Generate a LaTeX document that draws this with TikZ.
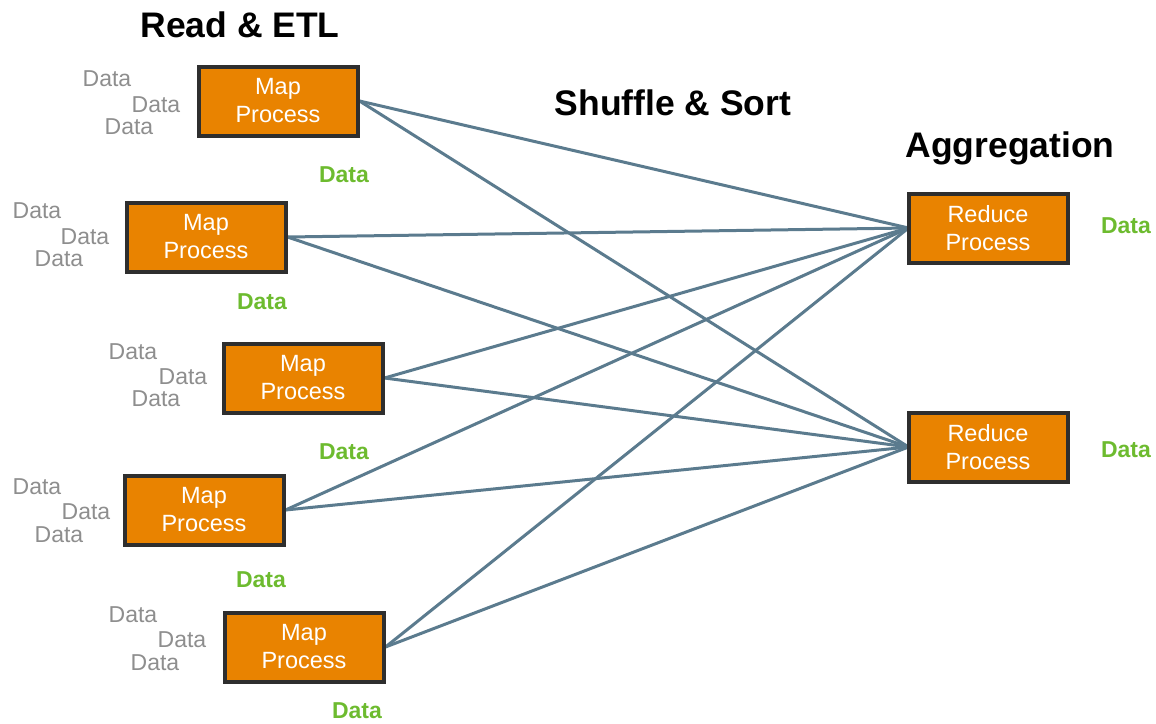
\documentclass[tikz,border=0pt]{standalone}
\usepackage{fontspec}
\setmainfont{Liberation Sans}
\usetikzlibrary{shadows,backgrounds}
\definecolor{boxfill}{HTML}{E98300}
\definecolor{boxline}{HTML}{2E2E2E}
\definecolor{linkcol}{HTML}{5B7B8E}
\definecolor{graytxt}{HTML}{8E8E8E}
\definecolor{greentxt}{HTML}{6DBB2F}
\tikzset{
  procbox/.style={draw=boxline, line width=4pt, fill=boxfill, minimum width=159pt, minimum height=69pt,
    inner sep=0pt, align=center, text=white, font=\fontsize{23.5}{28}\selectfont,
    drop shadow={shadow xshift=1.5pt, shadow yshift=-1.5pt, opacity=0.35}},
  link/.style={draw=linkcol, line width=3pt},
  graylab/.style={text=graytxt, font=\fontsize{23}{27}\selectfont, inner sep=0pt},
  greenlab/.style={text=greentxt, font=\bfseries\fontsize{23}{27}\selectfont, inner sep=0pt},
  titlelab/.style={font=\bfseries\fontsize{35.5}{42}\selectfont, inner sep=0pt}
}
\begin{document}
\begin{tikzpicture}[x=1pt,y=-1pt]
\useasboundingbox (0,0) rectangle (1156,723);
% boxes
\node[procbox] (m1) at (278,101) {Map\\Process};
\node[procbox] (m2) at (206,237) {Map\\Process};
\node[procbox] (m3) at (303,378) {Map\\Process};
\node[procbox] (m4) at (204,510) {Map\\Process};
\node[procbox] (m5) at (304,647) {Map\\Process};
\node[procbox] (r1) at (988,228) {Reduce\\Process};
\node[procbox] (r2) at (988,447) {Reduce\\Process};
% links, behind the boxes
\coordinate (a1) at ([xshift=2pt]r1.west);
\coordinate (a2) at ([xshift=2pt]r2.west);
\begin{pgfonlayer}{background}
\foreach \m in {m1,m2,m3,m4,m5}{
  \draw[link] (\m.east) -- (a1);
  \draw[link] (\m.east) -- (a2);
}
\end{pgfonlayer}
% gray data labels
\node[graylab] (g11) at (107,79) {Data};
\node[graylab] (g12) at (156,105) {Data};
\node[graylab] (g13) at (129,127) {Data};
\node[graylab] (g21) at (37,211) {Data};
\node[graylab] (g22) at (85,237) {Data};
\node[graylab] (g23) at (59,259) {Data};
\node[graylab] (g31) at (133,352) {Data};
\node[graylab] (g32) at (183,377) {Data};
\node[graylab] (g33) at (156,399) {Data};
\node[graylab] (g41) at (37,487) {Data};
\node[graylab] (g42) at (86,512) {Data};
\node[graylab] (g43) at (59,535) {Data};
\node[graylab] (g51) at (133,615) {Data};
\node[graylab] (g52) at (182,640) {Data};
\node[graylab] (g53) at (155,663) {Data};
% green data labels
\node[greenlab] (d1) at (344,175) {Data};
\node[greenlab] (d2) at (262,302) {Data};
\node[greenlab] (d3) at (344,452) {Data};
\node[greenlab] (d4) at (261,580) {Data};
\node[greenlab] (d5) at (357,711) {Data};
\node[greenlab] (dr1) at (1126,226) {Data};
\node[greenlab] (dr2) at (1126,450) {Data};
% titles
\node[titlelab] (t1) at (240,25) {Read \& ETL};
\node[titlelab] (t2) at (673,103) {Shuffle \& Sort};
\node[titlelab] (t3) at (1010,148) {Aggregation};
\end{tikzpicture}
\end{document}
